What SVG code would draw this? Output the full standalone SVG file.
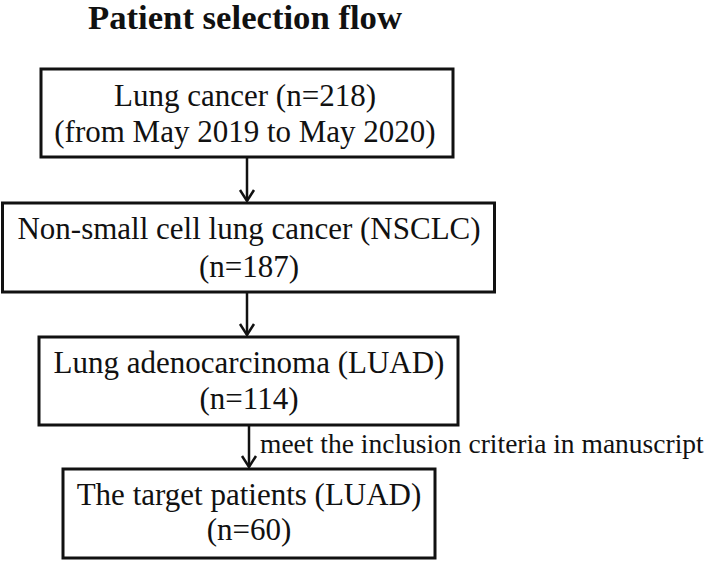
<svg xmlns="http://www.w3.org/2000/svg" width="709" height="561" viewBox="0 0 709 561">
<defs>
<style>
.box{fill:#fff;stroke:#111;stroke-width:3}
.t{font-family:"Liberation Serif","Times New Roman",serif;font-size:31px;fill:#111;text-anchor:middle}
.title{font-family:"Liberation Serif","Times New Roman",serif;font-size:33px;font-weight:bold;fill:#111;text-anchor:middle}
.lbl{font-family:"Liberation Serif","Times New Roman",serif;font-size:27.5px;fill:#111}
.conn{stroke:#111;stroke-width:2.5;fill:none}
</style>
<marker id="arr" viewBox="-13 -9 15 18" markerWidth="15" markerHeight="18" refX="0" refY="0" orient="auto" markerUnits="userSpaceOnUse" overflow="visible">
<path d="M-11,-7 L0,0 L-11,7" fill="none" stroke="#111" stroke-width="2.5"/>
</marker>
</defs>
<rect width="709" height="561" fill="#fff"/>
<text class="title" x="245" y="29" textLength="314" lengthAdjust="spacingAndGlyphs">Patient selection flow</text>
<g id="n1">
<rect class="box" x="41" y="69" width="412" height="88"/>
<text class="t" x="245" y="106">Lung cancer (n=218)</text>
<text class="t" x="245" y="142">(from May 2019 to May 2020)</text>
</g>
<g id="n2">
<rect class="box" x="2.5" y="203" width="492" height="89"/>
<text class="t" x="249" y="239">Non-small cell lung cancer (NSCLC)</text>
<text class="t" x="249" y="277">(n=187)</text>
</g>
<g id="n3">
<rect class="box" x="39" y="337" width="419" height="88"/>
<text class="t" x="249" y="373">Lung adenocarcinoma (LUAD)</text>
<text class="t" x="249" y="409">(n=114)</text>
</g>
<g id="n4">
<rect class="box" x="63" y="469" width="372" height="89"/>
<text class="t" x="249" y="505">The target patients (LUAD)</text>
<text class="t" x="249" y="540">(n=60)</text>
</g>
<g id="connectors">
<line class="conn" x1="247" y1="157" x2="247" y2="201" marker-end="url(#arr)"/>
<line class="conn" x1="247" y1="292" x2="247" y2="335" marker-end="url(#arr)"/>
<line class="conn" x1="249" y1="425" x2="249" y2="467" marker-end="url(#arr)"/>
<text class="lbl" x="260" y="453">meet the inclusion criteria in manuscript</text>
</g>
</svg>
